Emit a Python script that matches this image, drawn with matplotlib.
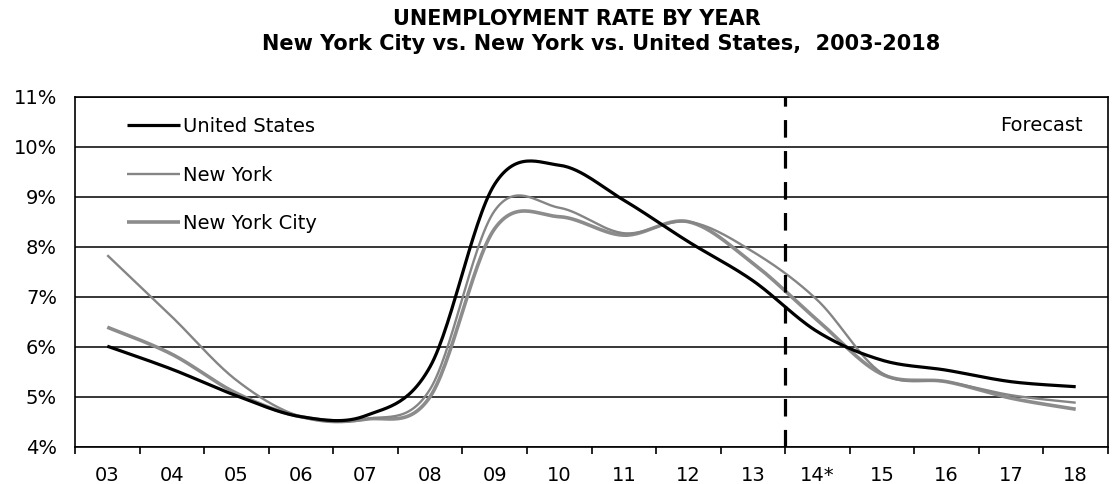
import numpy as np
import matplotlib
matplotlib.use("Agg")
import matplotlib.pyplot as plt
from matplotlib.ticker import FixedLocator

plt.rcParams['font.family'] = ['DejaVu Sans']

# ---- data -------------------------------------------------------------
years = ["03", "04", "05", "06", "07", "08", "09", "10",
         "11", "12", "13", "14*", "15", "16", "17", "18"]
united_states = [6.01, 5.55, 5.02, 4.60, 4.62, 5.60, 9.25, 9.63,
                 8.93, 8.10, 7.32, 6.30, 5.73, 5.53, 5.30, 5.20]
new_york = [7.83, 6.60, 5.33, 4.60, 4.55, 5.15, 8.72, 8.78,
            8.27, 8.50, 7.90, 6.93, 5.47, 5.30, 5.03, 4.88]
new_york_city = [6.39, 5.85, 5.07, 4.60, 4.55, 5.00, 8.36, 8.60,
                 8.23, 8.50, 7.67, 6.53, 5.45, 5.30, 4.97, 4.75]
forecast_start = "14*"
y_ticks = [4, 5, 6, 7, 8, 9, 10, 11]


def smooth(xs, ys, n=30):
    """Catmull-Rom style smoothing through every point (spreadsheet 'smoothed line')."""
    xs = np.asarray(xs, float)
    ys = np.asarray(ys, float)
    px = np.concatenate([[xs[0]], xs, [xs[-1]]])
    py = np.concatenate([[ys[0]], ys, [ys[-1]]])
    out_x, out_y = [], []
    t = np.linspace(0, 1, n, endpoint=False)
    for i in range(1, len(px) - 2):
        p0x, p1x, p2x, p3x = px[i - 1], px[i], px[i + 1], px[i + 2]
        p0y, p1y, p2y, p3y = py[i - 1], py[i], py[i + 1], py[i + 2]
        c1x, c1y = p1x + (p2x - p0x) / 6, p1y + (p2y - p0y) / 6
        c2x, c2y = p2x - (p3x - p1x) / 6, p2y - (p3y - p1y) / 6
        b0, b1, b2, b3 = (1 - t) ** 3, 3 * (1 - t) ** 2 * t, 3 * (1 - t) * t ** 2, t ** 3
        out_x.append(b0 * p1x + b1 * c1x + b2 * c2x + b3 * p2x)
        out_y.append(b0 * p1y + b1 * c1y + b2 * c2y + b3 * p2y)
    out_x.append([xs[-1]])
    out_y.append([ys[-1]])
    return np.concatenate(out_x), np.concatenate(out_y)


W, H = 1112, 484
fig = plt.figure(figsize=(W / 100, H / 100), dpi=100)
ax = fig.add_axes([75 / W, 37.3 / H, 1033 / W, 350 / H])

x = np.arange(len(years))

series = [
    ("United States", united_states, "#000000", 2.3, 3),
    ("New York", new_york, "#858585", 1.7, 2),
    ("New York City", new_york_city, "#8c8c8c", 2.6, 1),
]
handles = []
for label, vals, color, lw, z in series:
    sx, sy = smooth(x, vals)
    ln, = ax.plot(sx, sy, color=color, lw=lw, label=label, zorder=z,
                  solid_capstyle='butt')
    handles.append(ln)

# forecast divider between the last actual year and the first forecast year
ax.axvline(years.index(forecast_start) - 0.5, color='black', lw=2.3,
           linestyle=(0, (5.5, 4.2)), zorder=4)

ax.set_xlim(-0.5, len(years) - 0.5)
ax.set_ylim(y_ticks[0], y_ticks[-1])

ax.set_yticks(y_ticks)
ax.set_yticklabels([f"{v}%" for v in y_ticks])
ax.tick_params(axis='y', length=0, pad=13, labelsize=14)
ax.yaxis.grid(True, color='black', lw=1.1)
ax.set_axisbelow(True)

ax.set_xticks(x)
ax.set_xticklabels(years)
ax.xaxis.set_minor_locator(FixedLocator(np.arange(-0.5, len(years), 1.0)))
ax.tick_params(axis='x', which='major', length=0, pad=14, labelsize=14)
ax.tick_params(axis='x', which='minor', length=5, width=1.2, direction='out')

for sp in ax.spines.values():
    sp.set_color('black')
    sp.set_linewidth(1.2)

leg = ax.legend(handles=handles, loc='upper left',
                bbox_to_anchor=(52 / 1033, 1 - 20.5 / 350),
                frameon=False, fontsize=14, handlelength=2.7,
                handletextpad=0.2, labelspacing=1.51,
                borderaxespad=0, borderpad=0)

ax.text(0.9758, 0.919, "Forecast", transform=ax.transAxes,
        ha='right', va='center', fontsize=14)

fig.text(393 / W, 1 - 19 / H, "UNEMPLOYMENT RATE BY YEAR",
         ha='left', va='center', fontsize=15, fontweight='bold')
fig.text(262 / W, 1 - 43.5 / H,
         "New York City vs. New York vs. United States,  2003-2018",
         ha='left', va='center', fontsize=15, fontweight='bold')

fig.savefig("out.png", dpi=100)
